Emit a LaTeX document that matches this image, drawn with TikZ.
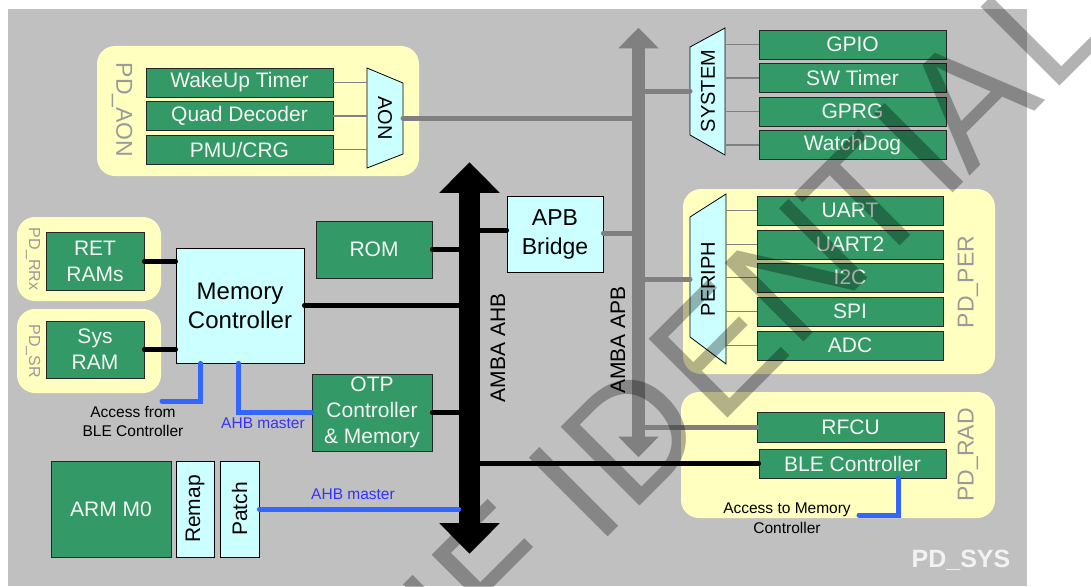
\documentclass[tikz,border=0pt]{standalone}
\usepackage{fontspec}
\setmainfont{Liberation Sans}
\usetikzlibrary{calc}
\definecolor{bggray}{HTML}{C0C0C0}
\definecolor{pdyellow}{HTML}{FFFFC0}
\definecolor{boxgreen}{HTML}{339966}
\definecolor{boxcyan}{HTML}{CCFFFF}
\definecolor{busgray}{HTML}{808080}
\definecolor{linkblue}{HTML}{3366FF}
\definecolor{textblue}{HTML}{3333FF}
\definecolor{pdtext}{HTML}{9A9A9A}
\definecolor{boxtext}{HTML}{F4F4F4}
\tikzset{
  greenbox/.style={draw=black!85, line width=0.8pt, fill=boxgreen, text=boxtext, inner sep=0pt, align=center, font=\fontsize{21}{26}\selectfont},
  cyanbox/.style={draw=black, line width=0.8pt, fill=boxcyan, text=black, inner sep=0pt, align=center},
  pdregion/.style={fill=pdyellow, rounded corners=18pt, inner sep=0pt},
  pdlabel/.style={text=pdtext, font=\fontsize{23}{23}\selectfont, inner sep=0pt},
  pdsmall/.style={text=pdtext, font=\fontsize{16}{16}\selectfont, inner sep=0pt},
  muxshape/.style={draw=black, line width=0.8pt, fill=boxcyan},
  muxtext/.style={font=\fontsize{20}{20}\selectfont, inner sep=0pt},
  muxline/.style={draw=busgray, line width=1.5pt},
  apbline/.style={draw=busgray, line width=5pt, line cap=round},
  ahbline/.style={draw=black, line width=5pt, line cap=round},
  blueline/.style={draw=linkblue, line width=5pt, line cap=round},
  note/.style={font=\fontsize{15.5}{19.5}\selectfont, align=center, inner sep=0pt},
  buslabel/.style={font=\fontsize{21}{21}\selectfont, inner sep=0pt, rotate=90},
  wm/.style={font=\fontsize{162}{162}\selectfont, text=black, opacity=0.3, inner sep=0pt, anchor=base}
}
\begin{document}
\begin{tikzpicture}[x=1pt,y=-1pt]
\useasboundingbox (0,0) rectangle (1091,586);
\fill[white] (0,0) rectangle (1091,586);
\fill[bggray] (8,9) rectangle (1027,586);

% power domain regions
\node[pdregion, minimum width=322pt, minimum height=130pt] (pdaon) at (258,111) {};
\node[pdregion, minimum width=144pt, minimum height=84pt] (pdrrx) at (89,259) {};
\node[pdregion, minimum width=144pt, minimum height=84pt] (pdsr) at (89,351) {};
\node[pdregion, minimum width=312pt, minimum height=185pt] (pdper) at (839,281.5) {};
\node[pdregion, minimum width=314pt, minimum height=126pt] (pdrad) at (838,455) {};
\node[pdlabel, rotate=-90] (lbl-aon) at (122,110) {PD\_AON};
\node[pdsmall, rotate=-90] (lbl-rrx) at (33,259) {PD\_RRx};
\node[pdsmall, rotate=-90] (lbl-sr) at (33,351) {PD\_SR};
\node[pdlabel, rotate=90] (lbl-per) at (968,282) {PD\_PER};
\node[pdlabel, rotate=90] (lbl-rad) at (968,455) {PD\_RAD};
\node[font=\bfseries\fontsize{25}{25}\selectfont, text=white!95!black, inner sep=0pt] (lbl-sys) at (961,560) {PD\_SYS};

% buses
\node[fill=black, minimum width=21pt, minimum height=331pt, inner sep=0pt] (ahb) at (469.5,358) {};
\fill[black] ($(ahb.north west)+(-19.5,0.5)$) -- ($(ahb.north east)+(19.5,0.5)$) -- ($(ahb.north)+(0,-30)$) -- cycle;
\fill[black] ($(ahb.south west)+(-19.5,-0.5)$) -- ($(ahb.south east)+(19.5,-0.5)$) -- ($(ahb.south)+(0,30)$) -- cycle;
\node[fill=busgray, minimum width=13pt, minimum height=389pt, inner sep=0pt] (apb) at (638.5,242.5) {};
\fill[busgray] ($(apb.north west)+(-13.5,0.5)$) -- ($(apb.north east)+(13.5,0.5)$) -- ($(apb.north)+(0,-20)$) -- cycle;
\fill[busgray] ($(apb.south west)+(-13.5,-0.5)$) -- ($(apb.south east)+(13.5,-0.5)$) -- ($(apb.south)+(0,20)$) -- cycle;
\node[buslabel] (lbl-ahb) at (498,348) {AMBA AHB};
\node[buslabel] (lbl-apb) at (618,340) {AMBA APB};

% AON block
\node[greenbox, minimum width=187pt, minimum height=29pt] (wut) at (239.5,82.5) {WakeUp Timer};
\node[greenbox, minimum width=187pt, minimum height=29pt] (quad) at (239.5,116) {Quad Decoder};
\node[greenbox, minimum width=187pt, minimum height=29pt] (pmu) at (239.5,149.5) {PMU/CRG};
\draw[muxshape] (367,68) -- (403,83) -- (403,154) -- (367,168) -- cycle;
\coordinate (aonL) at (367,118);
\coordinate (aonR) at (403,118);
\node[muxtext, rotate=-90] (aon) at (385,118) {AON};

% SYSTEM block
\draw[muxshape] (690,47) -- (725,28) -- (725,155) -- (690,135) -- cycle;
\coordinate (sysL) at (690,91);
\coordinate (sysR) at (725,91);
\node[muxtext, rotate=90] (system) at (708,91) {SYSTEM};
\node[greenbox, minimum width=187pt, minimum height=29pt] (gpio) at (852.5,44.5) {GPIO};
\node[greenbox, minimum width=187pt, minimum height=29pt] (swt) at (852.5,78) {SW Timer};
\node[greenbox, minimum width=187pt, minimum height=29pt] (gprg) at (852.5,111.5) {GPRG};
\node[greenbox, minimum width=187pt, minimum height=29pt] (wdog) at (852.5,145) {WatchDog};

% PERIPH block
\draw[muxshape] (690,217) -- (726,194) -- (726,364) -- (690,337) -- cycle;
\coordinate (perL) at (690,279);
\coordinate (perR) at (726,279);
\node[muxtext, rotate=90] (periph) at (708,279) {PERIPH};
\node[greenbox, minimum width=186pt, minimum height=29pt] (uart) at (850,210.5) {UART};
\node[greenbox, minimum width=186pt, minimum height=29pt] (uart2) at (850,244.5) {UART2};
\node[greenbox, minimum width=186pt, minimum height=29pt] (i2c) at (850,277.5) {I2C};
\node[greenbox, minimum width=186pt, minimum height=29pt] (spi) at (850,311.5) {SPI};
\node[greenbox, minimum width=186pt, minimum height=29pt] (adc) at (850,345.5) {ADC};

% radio
\node[greenbox, minimum width=187pt, minimum height=30pt] (rfcu) at (850.5,427) {RFCU};
\node[greenbox, minimum width=187pt, minimum height=29pt] (ble) at (852.5,463.5) {BLE Controller};

% memory side
\node[cyanbox, minimum width=96pt, minimum height=76pt, font=\fontsize{23}{29}\selectfont] (bridge) at (555,234) {APB\\Bridge};
\node[greenbox, minimum width=116pt, minimum height=57pt] (rom) at (374,249.5) {ROM};
\node[cyanbox, minimum width=128pt, minimum height=115pt, font=\fontsize{24}{29}\selectfont] (mc) at (240,305.5) {Memory\\Controller};
\node[greenbox, minimum width=98pt, minimum height=58pt] (ret) at (95,261) {RET\\RAMs};
\node[greenbox, minimum width=98pt, minimum height=57pt] (sysram) at (95,349.5) {Sys\\RAM};
\node[greenbox, minimum width=120pt, minimum height=77pt] (otp) at (372,412.5) {OTP\\Controller\\\& Memory};
\node[greenbox, minimum width=120pt, minimum height=96pt] (arm) at (111,509) {ARM M0};
\node[cyanbox, minimum width=38pt, minimum height=96pt] (remap) at (195,509) {};
\node[font=\fontsize{21}{21}\selectfont, rotate=90, inner sep=0pt] (remaptxt) at (remap.center) {Remap};
\node[cyanbox, minimum width=39pt, minimum height=96pt] (patch) at (239.5,509) {};
\node[font=\fontsize{21}{21}\selectfont, rotate=90, inner sep=0pt] (patchtxt) at (patch.center) {Patch};

% mux connections
\draw[muxline] (wut.east) -- (wut.east -| aonL);
\draw[muxline] (quad.east) -- (quad.east -| aonL);
\draw[muxline] (pmu.east) -- (pmu.east -| aonL);
\draw[muxline] (gpio.west -| sysR) -- (gpio.west);
\draw[muxline] (swt.west -| sysR) -- (swt.west);
\draw[muxline] (gprg.west -| sysR) -- (gprg.west);
\draw[muxline] (wdog.west -| sysR) -- (wdog.west);
\draw[muxline] (uart.west -| perR) -- (uart.west);
\draw[muxline] (uart2.west -| perR) -- (uart2.west);
\draw[muxline] (i2c.west -| perR) -- (i2c.west);
\draw[muxline] (spi.west -| perR) -- (spi.west);
\draw[muxline] (adc.west -| perR) -- (adc.west);

% APB connections
\draw[apbline] (aonR) -- (aonR -| apb.west);
\draw[apbline] (apb.east |- sysL) -- (sysL);
\draw[apbline] ($(bridge.east)+(0,-1)$) -- ($(bridge.east -| apb.west)+(0,-1)$);
\draw[apbline] (apb.east |- perL) -- (perL);
\draw[apbline] (apb.east |- rfcu.west) -- (rfcu.west);

% AHB connections
\draw[ahbline] (rom.east) -- (rom.east -| ahb.west);
\draw[ahbline] (mc.east) -- (mc.east -| ahb.west);
\draw[ahbline] (otp.east) -- (otp.east -| ahb.west);
\draw[ahbline] ($(ahb.east |- bridge.west)+(0,-4)$) -- ($(bridge.west)+(0,-4)$);
\draw[ahbline] (ahb.east |- ble.west) -- (ble.west);
\draw[ahbline] (ret.east) -- (ret.east -| mc.west);
\draw[ahbline] (sysram.east) -- (sysram.east -| mc.west);

% blue master links
\coordinate (acc1) at (162,401);
\coordinate (acc2) at (859,515);
\draw[blueline] ($(mc.south west)+(25,0)$) |- (acc1);
\draw[blueline] ($(mc.south west)+(63,0)$) |- (otp.west);
\draw[blueline] (patch.east) -- (patch.east -| ahb.west);
\draw[blueline] ($(ble.south west)+(140,0)$) |- (acc2);
\node[note] (n-acc1) at (133,421.5) {Access from\\BLE Controller};
\node[note, text=textblue] (n-ahb1) at (263,423) {AHB master};
\node[note, text=textblue] (n-ahb2) at (353,494) {AHB master};
\node[note] (n-acc2) at (787,518) {Access to Memory\\Controller};

% watermark
\begin{scope}
\clip (0,0) rectangle (1091,586);
\begin{scope}[shift={(572.8,572.8)}, rotate=45, x=1pt, y=1pt, transform shape]
\node[wm] (w1) at (-400,0) {C};
\node[wm] (w2) at (-280,0) {O};
\node[wm] (w3) at (-160,0) {N};
\node[wm] (w4) at (-51,0) {F};
\node[wm] (w5) at (58,0) {I};
\node[wm] (w6) at (140,0) {D};
\node[wm] (w7) at (260,0) {E};
\node[wm] (w8) at (372,0) {N};
\node[wm] (w9) at (470,0) {T};
\node[wm] (w10) at (545,0) {I};
\node[wm] (w11) at (615,0) {A};
\node[wm] (w12) at (720,0) {L};
\end{scope}
\end{scope}
\end{tikzpicture}
\end{document}
